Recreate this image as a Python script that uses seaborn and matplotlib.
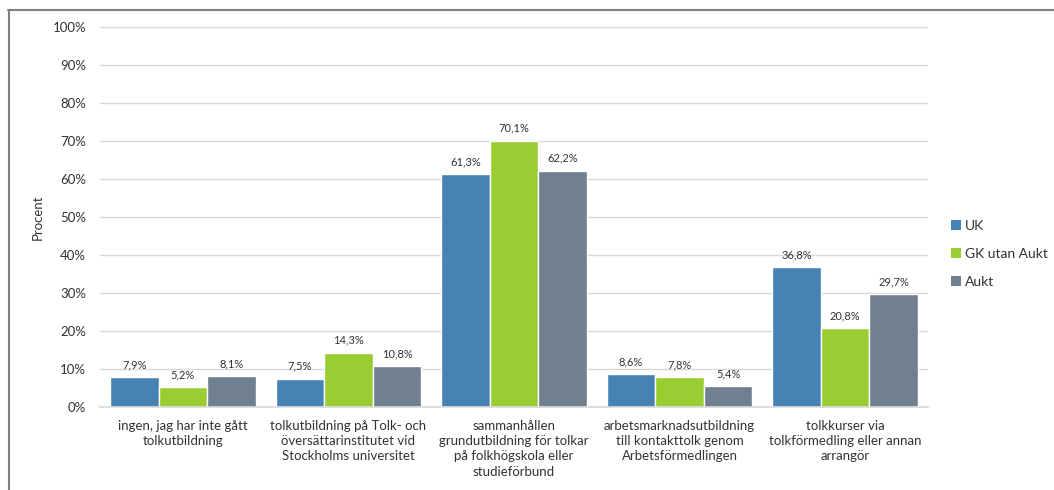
import matplotlib
matplotlib.use("Agg")
import matplotlib.pyplot as plt
from matplotlib.lines import Line2D
from matplotlib.patches import Patch
from matplotlib.ticker import MultipleLocator, FuncFormatter
import seaborn as sns
import pandas as pd

categories = [
    "ingen, jag har inte gått\ntolkutbildning",
    "tolkutbildning på Tolk- och\növersättarinstitutet vid\nStockholms universitet",
    "sammanhållen\ngrundutbildning för tolkar\npå folkhögskola eller\nstudieförbund",
    "arbetsmarknadsutbildning\ntill kontakttolk genom\nArbetsförmedlingen",
    "tolkkurser via\ntolkförmedling eller annan\narrangör",
]
series = ["UK", "GK utan Aukt", "Aukt"]
uk = [7.9, 7.5, 61.3, 8.6, 36.8]
gk_utan_aukt = [5.2, 14.3, 70.1, 7.8, 20.8]
aukt = [8.1, 10.8, 62.2, 5.4, 29.7]
colors = ["#4682B4", "#9ACD32", "#708090"]

rows = []
for name, vals in zip(series, [uk, gk_utan_aukt, aukt]):
    for cat, v in zip(categories, vals):
        rows.append({"kategori": cat, "grupp": name, "procent": v})
df = pd.DataFrame(rows)

sns.set_theme(style="white")
plt.rcParams["font.family"] = ["Lato", "DejaVu Sans"]
text_color = "#333333"

fig = plt.figure(figsize=(10.54, 4.90), dpi=100)
ax = fig.add_axes([100 / 1054, 1 - 407 / 490, 828 / 1054, 380 / 490])

sns.barplot(data=df, x="kategori", y="procent", hue="grupp",
            hue_order=series, order=categories, palette=colors,
            saturation=1, width=0.88, ax=ax, legend=False)

for cont in ax.containers:
    vals = [b.get_height() for b in cont]
    labels = [f"{v:.1f}%".replace(".", ",") for v in vals]
    ax.bar_label(cont, labels=labels, padding=5, fontsize=8, color=text_color)

ax.set_ylim(0, 100)
ax.set_xlim(-0.5, len(categories) - 0.5)
ax.yaxis.set_major_locator(MultipleLocator(10))
ax.yaxis.set_major_formatter(FuncFormatter(lambda v, p: f"{v:.0f}%"))
ax.grid(axis="y", color="#D9D9D9", linewidth=1)
ax.set_axisbelow(True)
for side in ["top", "right", "left"]:
    ax.spines[side].set_visible(False)
ax.spines["bottom"].set_color("#D9D9D9")
ax.tick_params(axis="both", length=0, colors=text_color, labelsize=9.5)
ax.tick_params(axis="y", pad=10)
ax.tick_params(axis="x", pad=9)
ax.set_xlabel("")
ax.set_ylabel("Procent", fontsize=9.5, color=text_color, labelpad=6)
for lbl in ax.get_xticklabels():
    lbl.set_linespacing(1.35)

handles = [Patch(facecolor=c, edgecolor="none") for c in colors]
fig.legend(handles, series, loc="center left",
           bbox_to_anchor=(938 / 1054, 1 - 254 / 490), frameon=False,
           fontsize=10, handlelength=0.75, handleheight=0.75,
           handletextpad=0.3, labelspacing=1.15, labelcolor=text_color)

# outer frame
fig.add_artist(Line2D([8 / 1054, 1], [1 - 10.5 / 490] * 2,
                      transform=fig.transFigure, color="#7F7F7F", lw=1.5))
fig.add_artist(Line2D([8.5 / 1054] * 2, [0, 1 - 10.5 / 490],
                      transform=fig.transFigure, color="#7F7F7F", lw=1.5))

fig.savefig("out.png", dpi=100, facecolor="white")
